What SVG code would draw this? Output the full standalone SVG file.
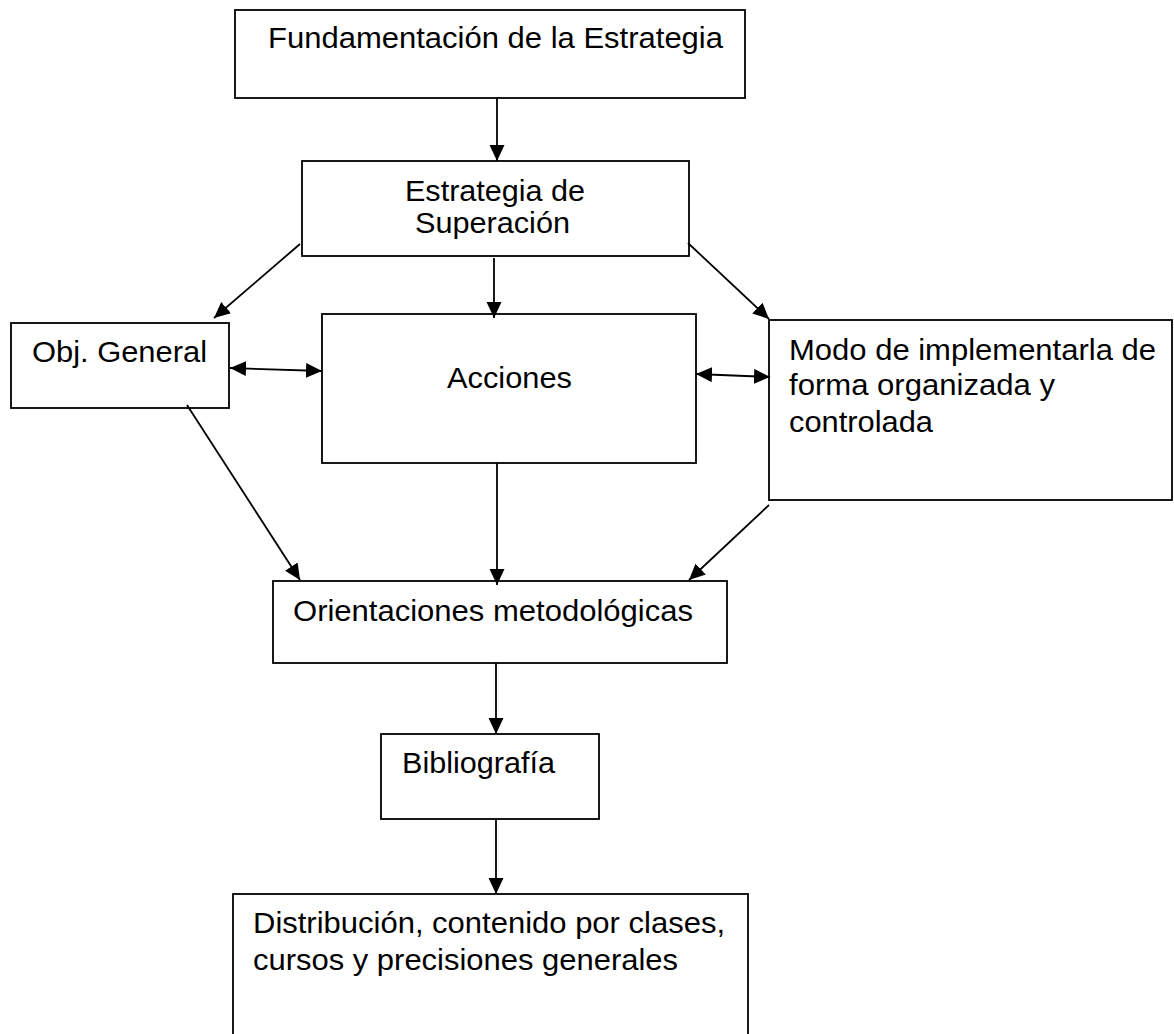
<svg xmlns="http://www.w3.org/2000/svg" width="1174" height="1034" viewBox="0 0 1174 1034">
<style>
.box{fill:#fff;stroke:#000;stroke-width:1.8}
.t{font-family:"Liberation Sans",Arial,sans-serif;font-size:30px;fill:#000}
.c{stroke:#000;stroke-width:1.8;fill:none;marker-end:url(#ah)}
.d{marker-start:url(#ah)}
</style>
<defs>
<marker id="ah" markerUnits="userSpaceOnUse" markerWidth="18" markerHeight="16" refX="16" refY="7.5" orient="auto-start-reverse">
<path d="M0,0 L16,7.5 L0,15 z" fill="#000"/>
</marker>
</defs>
<rect width="1174" height="1034" fill="#fff"/>
<g id="n1"><rect class="box" x="235" y="10" width="510" height="88"/>
<text class="t" x="268" y="48" textLength="455" lengthAdjust="spacingAndGlyphs">Fundamentación de la Estrategia</text></g>
<g id="n2"><rect class="box" x="302" y="161" width="387" height="95"/>
<text class="t" x="405" y="201" textLength="180" lengthAdjust="spacingAndGlyphs">Estrategia de</text>
<text class="t" x="415" y="233" textLength="155" lengthAdjust="spacingAndGlyphs">Superación</text></g>
<g id="n3"><rect class="box" x="11" y="323" width="218" height="85"/>
<text class="t" x="32" y="362" textLength="175" lengthAdjust="spacingAndGlyphs">Obj. General</text></g>
<g id="n4"><rect class="box" x="322" y="314" width="374" height="149"/>
<text class="t" x="447" y="388" textLength="125" lengthAdjust="spacingAndGlyphs">Acciones</text></g>
<g id="n5"><rect class="box" x="769" y="320" width="403" height="180"/>
<text class="t" x="789" y="360" textLength="367" lengthAdjust="spacingAndGlyphs">Modo de implementarla de</text>
<text class="t" x="789" y="395" textLength="266" lengthAdjust="spacingAndGlyphs">forma organizada y</text>
<text class="t" x="789" y="432" textLength="144" lengthAdjust="spacingAndGlyphs">controlada</text></g>
<g id="n6"><rect class="box" x="273" y="581" width="454" height="82"/>
<text class="t" x="293" y="621" textLength="400" lengthAdjust="spacingAndGlyphs">Orientaciones metodológicas</text></g>
<g id="n7"><rect class="box" x="381" y="734" width="218" height="85"/>
<text class="t" x="402" y="773" textLength="153" lengthAdjust="spacingAndGlyphs">Bibliografía</text></g>
<g id="n8"><rect class="box" x="233" y="894" width="515" height="160"/>
<text class="t" x="253" y="933" textLength="472" lengthAdjust="spacingAndGlyphs">Distribución, contenido por clases,</text>
<text class="t" x="253" y="970" textLength="425" lengthAdjust="spacingAndGlyphs">cursos y precisiones generales</text></g>
<g id="connectors">
<line class="c" x1="497" y1="98" x2="497" y2="161"/>
<line class="c" x1="300" y1="244" x2="214" y2="318"/>
<line class="c" x1="494" y1="258" x2="494" y2="318"/>
<line class="c" x1="688" y1="243" x2="769" y2="319"/>
<line class="c d" x1="230" y1="368" x2="322" y2="371"/>
<line class="c d" x1="696" y1="374" x2="770" y2="377"/>
<line class="c" x1="187" y1="405" x2="300" y2="580"/>
<line class="c" x1="497" y1="463" x2="497" y2="585"/>
<line class="c" x1="769" y1="505" x2="689" y2="580"/>
<line class="c" x1="496" y1="663" x2="496" y2="734"/>
<line class="c" x1="496" y1="819" x2="496" y2="894"/>
</g>
</svg>
